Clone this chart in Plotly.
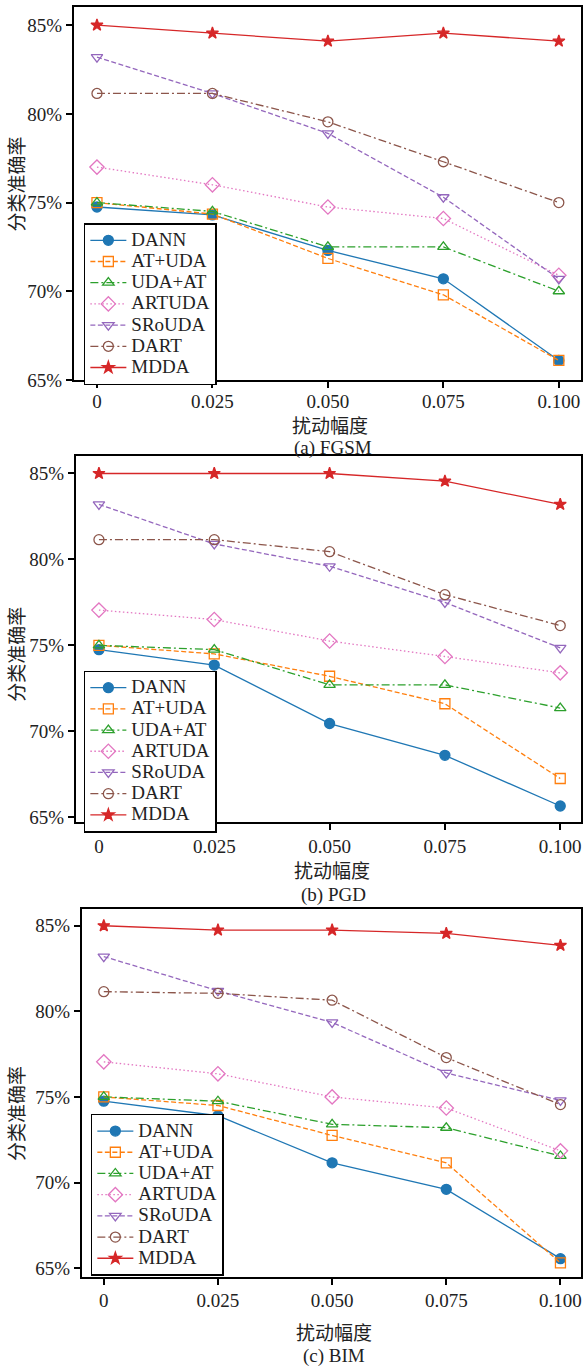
import plotly.graph_objects as go

# ---------------- data ----------------
eps = [0, 0.025, 0.05, 0.075, 0.1]
eps_labels = ["0", "0.025", "0.050", "0.075", "0.100"]
y_ticks = [65, 70, 75, 80, 85]
y_labels = ["65%", "70%", "75%", "80%", "85%"]
methods = ["DANN", "AT+UDA", "UDA+AT", "ARTUDA", "SRoUDA", "DART", "MDDA"]

# (a) FGSM
fgsm_dann = [74.75, 74.3, 72.3, 70.7, 66.1]
fgsm_at_uda = [75.0, 74.35, 71.85, 69.8, 66.1]
fgsm_uda_at = [75.0, 74.5, 72.5, 72.5, 70.0]
fgsm_artuda = [77.0, 76.0, 74.75, 74.1, 70.9]
fgsm_srouda = [83.2, 81.15, 78.9, 75.3, 70.7]
fgsm_dart = [81.15, 81.15, 79.55, 77.3, 75.0]
fgsm_mdda = [85.0, 84.55, 84.1, 84.55, 84.1]

# (b) PGD
pgd_dann = [74.75, 73.85, 70.45, 68.6, 65.65]
pgd_at_uda = [75.0, 74.5, 73.2, 71.6, 67.25]
pgd_uda_at = [75.0, 74.75, 72.7, 72.7, 71.35]
pgd_artuda = [77.05, 76.5, 75.25, 74.35, 73.4]
pgd_srouda = [83.2, 80.9, 79.6, 77.5, 74.85]
pgd_dart = [81.15, 81.15, 80.45, 77.95, 76.15]
pgd_mdda = [85.0, 85.0, 85.0, 84.55, 83.2]

# (c) BIM
bim_dann = [74.75, 73.9, 71.15, 69.6, 65.55]
bim_at_uda = [75.0, 74.5, 72.75, 71.15, 65.3]
bim_uda_at = [75.0, 74.75, 73.4, 73.2, 71.55]
bim_artuda = [77.05, 76.35, 75.0, 74.35, 71.85]
bim_srouda = [83.2, 81.2, 79.35, 76.4, 74.8]
bim_dart = [81.15, 81.05, 80.65, 77.3, 74.55]
bim_mdda = [85.0, 84.75, 84.75, 84.55, 83.85]

panels = [
    ("(a) FGSM", [fgsm_dann, fgsm_at_uda, fgsm_uda_at, fgsm_artuda, fgsm_srouda, fgsm_dart, fgsm_mdda]),
    ("(b) PGD", [pgd_dann, pgd_at_uda, pgd_uda_at, pgd_artuda, pgd_srouda, pgd_dart, pgd_mdda]),
    ("(c) BIM", [bim_dann, bim_at_uda, bim_uda_at, bim_artuda, bim_srouda, bim_dart, bim_mdda]),
]

# ---------------- styles ----------------
W, H = 583, 1368
colors = ["#1f77b4", "#ff7f0e", "#2ca02c", "#e377c2", "#9467bd", "#8c564b", "#d62728"]
dashes = ["solid", "5px,2.5px", "8px,3px,2px,3px", "1.5px,2.5px", "5px,2.5px", "8px,3px,2px,3px", "solid"]
symbols = ["circle", "square-open", "triangle-up-open", "diamond-open",
           "triangle-down-open", "circle-open", "star"]
msizes = [10, 10, 10, 11, 10, 10, 9]

SERIF = "Liberation Serif, Times New Roman, serif"
CJK = "Liberation Serif, Noto Sans CJK SC, serif"

# plot-area geometry in pixels (left, right, top, bottom)
geo = [
    (74, 582, 7.5, 383, [-0.005, 0.1048], [65, 86]),
    (76, 582, 460, 829, [-0.005, 0.1045], [64.7, 86]),
    (82, 582, 916, 1287, [-0.0048, 0.1045], [64.5, 86]),
]
xlab_standoff = [-3, 0, 0]
legend_pos = [(84, 225), (84, 676), (91, 1123)]
ytitle_y = [185, 659, 1122]
xtitle = [(331, 430), (333, 879), (335, 1344)]
caption = [(334, 452), (334, 902), (335, 1367)]

fig = go.Figure()
layout = dict(width=W, height=H, margin=dict(l=0, r=0, t=0, b=0),
              plot_bgcolor="white", paper_bgcolor="white", annotations=[])

for p, (cap, series) in enumerate(panels):
    sfx = "" if p == 0 else str(p + 1)
    leg = "legend" if p == 0 else "legend" + str(p + 1)
    for i, m in enumerate(methods):
        fig.add_trace(go.Scatter(
            x=eps, y=series[i], mode="lines+markers",
            name="<span style='font-size:19px'>" + m + "</span>",
            line=dict(color=colors[i], width=1.3, dash=dashes[i]),
            marker=dict(symbol=symbols[i], size=msizes[i], color=colors[i],
                        line=dict(color=colors[i], width=1.3)),
            xaxis="x" + sfx, yaxis="y" + sfx, legend=leg,
        ))
    l, r, t, b, xr, yr = geo[p]
    axcommon = dict(showline=True, linecolor="black", linewidth=2, mirror=True,
                    ticks="outside", ticklen=6, tickwidth=1.5, tickcolor="black",
                    showgrid=False, zeroline=False, ticklabeloverflow="allow",
                    tickfont=dict(family=SERIF, size=19, color="#222"))
    layout["xaxis" + sfx] = dict(axcommon, domain=[l / W, r / W], range=xr,
                                 tickvals=eps, ticktext=eps_labels,
                                 ticklabelstandoff=xlab_standoff[p],
                                 anchor="y" + sfx)
    layout["yaxis" + sfx] = dict(axcommon, domain=[1 - b / H, 1 - t / H], range=yr,
                                 tickvals=y_ticks, ticktext=y_labels,
                                 anchor="x" + sfx)
    lx, ly = legend_pos[p]
    layout[leg] = dict(x=lx / W, y=1 - ly / H, xanchor="left", yanchor="top",
                       bordercolor="black", borderwidth=1.5, bgcolor="white",
                       font=dict(family=SERIF, size=14, color="#222"),
                       itemwidth=36, tracegroupgap=0)
    layout["annotations"] += [
        dict(text="分类准确率", x=18 / W, y=1 - ytitle_y[p] / H, xref="paper", yref="paper",
             xanchor="center", yanchor="middle",
             textangle=-90, showarrow=False, font=dict(family=CJK, size=19, color="#222")),
        dict(text="扰动幅度", x=xtitle[p][0] / W, y=1 - xtitle[p][1] / H, xref="paper", yref="paper",
             xanchor="center", yanchor="middle",
             showarrow=False, font=dict(family=CJK, size=19, color="#222")),
        dict(text=cap, x=caption[p][0] / W, y=1 - caption[p][1] / H, xref="paper", yref="paper",
             xanchor="center", yanchor="middle",
             showarrow=False, font=dict(family=SERIF, size=19, color="#222")),
    ]

fig.update_layout(**layout)
fig.write_html("out.html", config={"displayModeBar": False},
               post_script="document.body.style.margin='0';document.body.style.overflow='hidden';")
